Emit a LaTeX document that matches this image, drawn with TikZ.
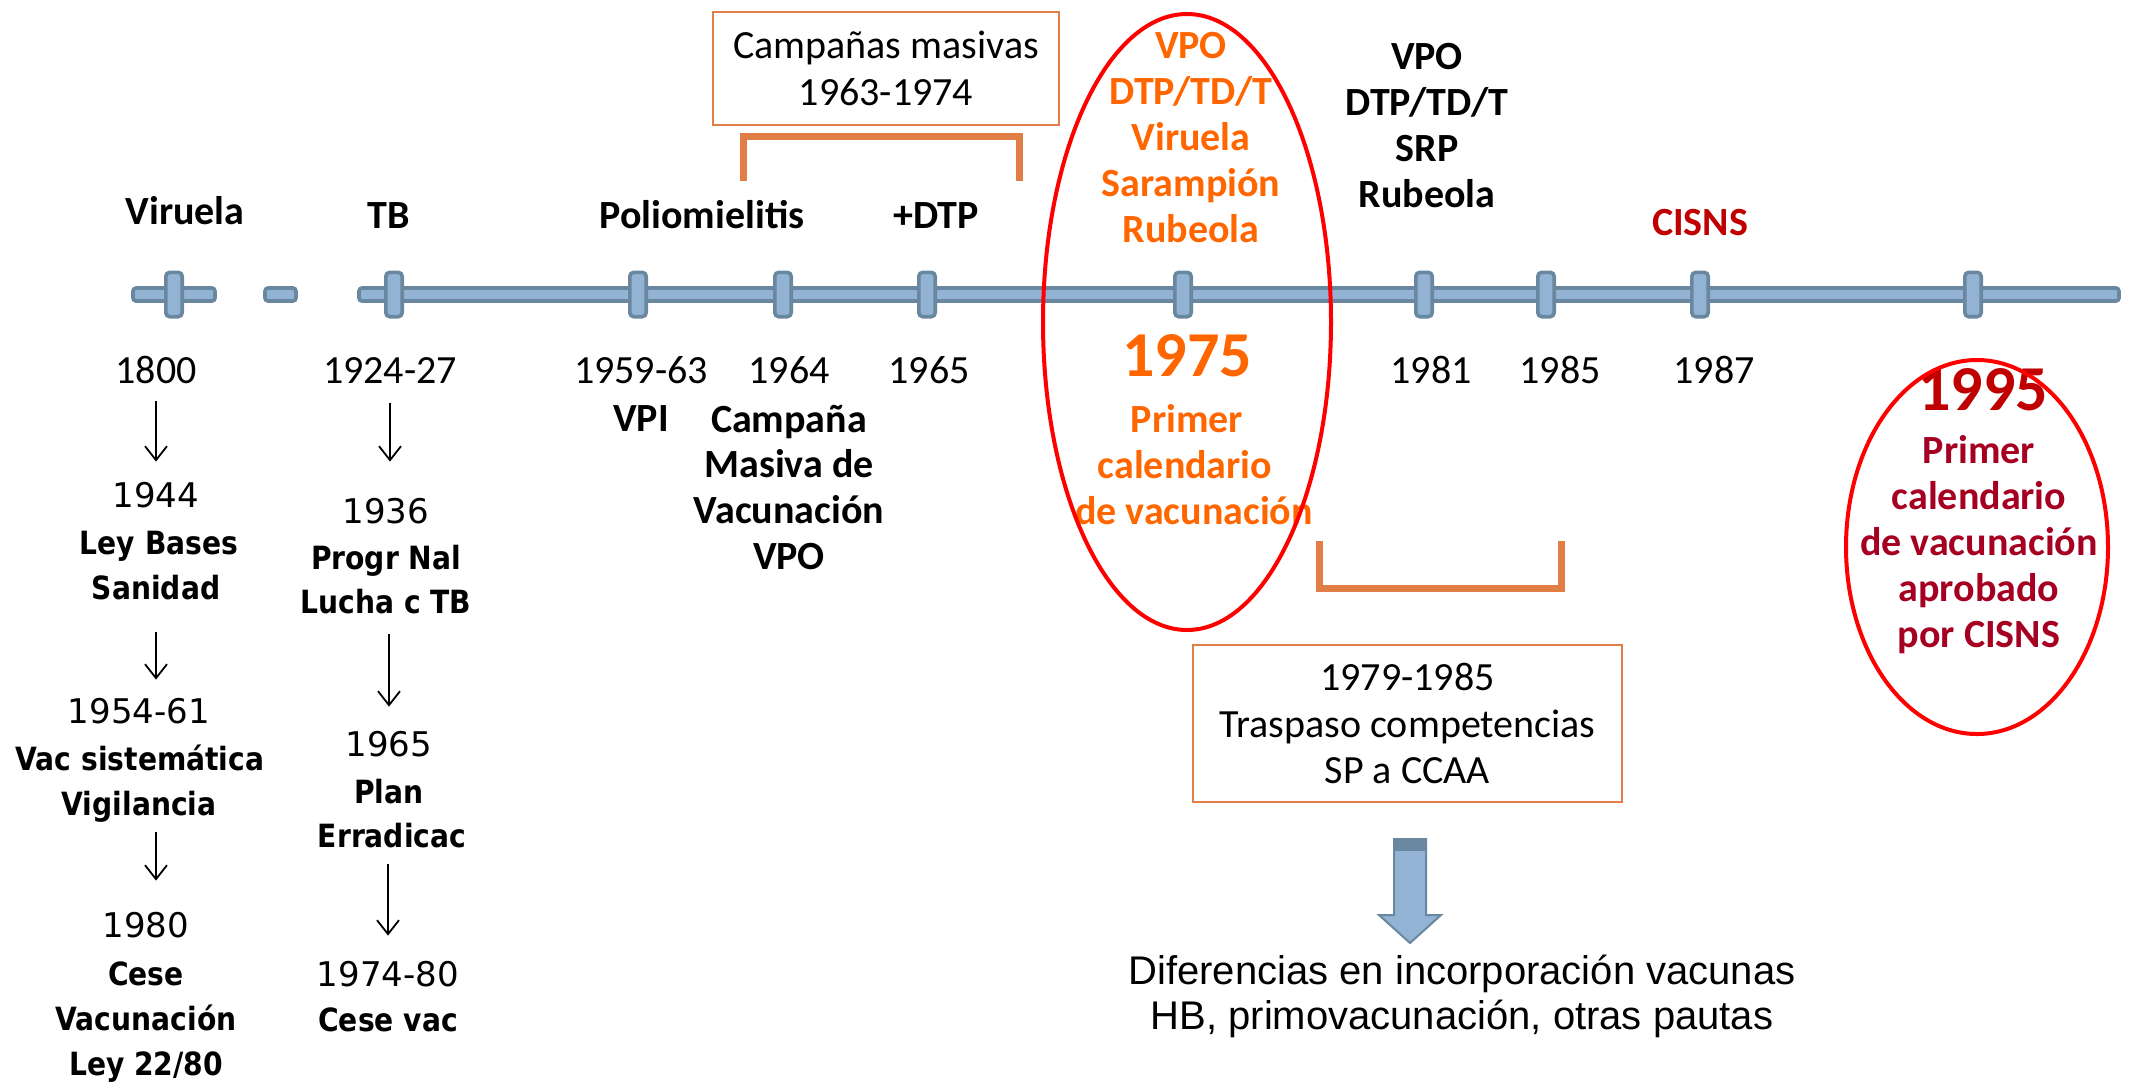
\documentclass[tikz,border=0pt]{standalone}
\usepackage{fontspec}
\setmainfont{Carlito}
\newfontfamily\verd{DejaVu Sans}
\newfontfamily\verdb[FakeStretch=0.88]{DejaVu Sans}
\newfontfamily\arialf{Liberation Sans}
\usetikzlibrary{positioning}
\usetikzlibrary{arrows.meta}
\definecolor{axfill}{RGB}{147,179,213}
\definecolor{axline}{RGB}{106,135,160}
\definecolor{brk}{RGB}{224,126,70}
\definecolor{orng}{RGB}{255,102,0}
\definecolor{dred}{RGB}{192,0,0}
\definecolor{wine}{RGB}{165,0,33}

\begin{document}
\begin{tikzpicture}[x=0.5pt,y=-0.5pt,
  axbar/.style={draw=axline,fill=axfill,line width=1.8pt,rounded corners=1.5pt},
  tk/.style={draw=axline,fill=axfill,line width=1.8pt,rounded corners=2pt,inner sep=0pt,minimum width=8.2pt,minimum height=22.2pt},
  cal/.style={inner sep=0pt,text height=13pt,text depth=0pt,font=\fontsize{20}{24}\selectfont},
  calb/.style={inner sep=0pt,text height=13pt,text depth=0pt,font=\fontsize{20}{24}\selectfont\bfseries},
  vd/.style={inner sep=0pt,text height=12.4pt,text depth=0pt,font=\verd\fontsize{17}{20}\selectfont},
  vdb/.style={inner sep=0pt,text height=11.7pt,text depth=0pt,font=\verdb\fontsize{16}{19}\selectfont\bfseries},
  big/.style={inner sep=0pt,text height=20.6pt,text depth=0pt,font=\fontsize{32}{38}\selectfont\bfseries},
  frame/.style={draw=brk,line width=1pt,inner sep=0pt,align=center,font=\fontsize{20}{23.5}\selectfont},
  brkt/.style={draw=brk,line width=3.5pt},
  ring/.style={draw=red,line width=2pt},
  arr/.style={-{Straight Barb[length=7pt,width=11pt]},line width=0.9pt}]
\useasboundingbox (0,0) rectangle (2132,1084);

%time axis
\draw[axbar] (133,288) rectangle (215,301);
\draw[axbar] (265,288) rectangle (296,301);
\draw[axbar] (359,288) rectangle (2119,301);
\foreach\x [count=\i] in {174,394,638,783,927,1183,1424,1546,1700,1973}{
	\node[tk] (t\i) at (\x,294.5) {};}

%above the axis
\node[calb] (viru) at (185,211) {Viruela};
\node[calb] (tb) at (389,215) {TB};
\node[calb] (polio) at (702,215) {Poliomielitis};
\node[calb] (dtp) at (936,215) {+DTP};
\node[calb,text=dred] (cisns) at (1700,222) {CISNS};
\foreach\txt [count=\i] in {VPO,DTP/TD/T,Viruela,Sarampión,Rubeola}{
	\node[calb,text=orng] (o\i) at (1191,{45+46*(\i-1)}) {\txt};}
\foreach\txt [count=\i] in {VPO,DTP/TD/T,SRP,Rubeola}{
	\node[calb] (k\i) at (1427,{56+46*(\i-1)}) {\txt};}

%campaigns 1963-1974
\node[frame,minimum width=173pt,minimum height=56.5pt] (camp) at (886,68.5) {Campañas masivas\\1963-1974};
\draw[brkt] (743,181) -- (743,136) -- (1019,136) -- (1019,181);

%years below the axis
\node[cal] (a1800) at (156,370) {1800};
\node[cal] (a1924) at (390,370) {1924-27};
\node[cal] (a1959) at (641,370) {1959-63};
\node[cal] (a1964) at (789,370) {1964};
\node[cal] (a1965) at (929,370) {1965};
\node[cal] (a1981) at (1431,370) {1981};
\node[cal] (a1985) at (1560,370) {1985};
\node[cal] (a1987) at (1714,370) {1987};
\node[calb] (vpi) at (641,418) {VPI};
\foreach\txt [count=\i] in {Campaña,Masiva de,Vacunación,VPO}{
	\node[calb] (c\i) at (789,{419+45.7*(\i-1)}) {\txt};}

%1975
\node[big,text=orng] (a1975) at (1187,356) {1975};
\node[calb,text=orng] (p1) at (1187,419) {Primer};
\node[calb,text=orng] (p2) at (1185,465) {calendario};
\node[calb,text=orng] (p3) at (1194,511) {de vacunación};
\draw[ring] (1187,322) ellipse [x radius=144, y radius=308];

%1995
\node[big,text=dred] (a1995) at (1983,390) {1995};
\foreach\txt [count=\i] in {Primer,calendario,de vacunación,aprobado,por CISNS}{
	\node[calb,text=wine] (q\i) at (1979,{450+46.2*(\i-1)}) {\txt};}
\draw[ring] (1977,547) ellipse [x radius=131, y radius=187];

%viruela column
\node[vd] (y1944) at (156,495) {1944};
\node[vdb] (ley) at (159,543) {Ley Bases};
\node[vdb] (san) at (156,588) {Sanidad};
\node[vd] (y1954) at (139,711) {1954-61};
\node[vdb] (vac) at (140,759) {Vac sistemática};
\node[vdb] (vig) at (139,804) {Vigilancia};
\node[vd] (y1980) at (146,925) {1980};
\node[vdb] (cese) at (146,974) {Cese};
\node[vdb] (vacu) at (146,1019) {Vacunación};
\node[vdb] (ley22) at (146,1064) {Ley 22/80};
\draw[arr,shorten <=9pt,shorten >=10.3pt] (a1800) -- (y1944);
\draw[arr,shorten <=16pt,shorten >=9.3pt] (san.south) -- (san.south |- y1954.north);
\draw[arr,shorten <=8pt,shorten >=15.8pt] (a1800 |- vig.south) -- (a1800 |- y1980.north);

%TB column
\node[vd] (y1936) at (386,511) {1936};
\node[vdb] (progr) at (386,558) {Progr Nal};
\node[vdb] (lucha) at (386,602) {Lucha c TB};
\node[vd] (y1965) at (389,744) {1965};
\node[vdb] (plan) at (389,792) {Plan};
\node[vdb] (erra) at (392,836) {Erradicac};
\node[vd] (y1974) at (388,974) {1974-80};
\node[vdb] (cesev) at (388,1020) {Cese vac};
\draw[arr,shorten <=10pt,shorten >=18.3pt] (a1924.south) -- (a1924.south |- y1936.north);
\draw[arr,shorten <=10pt,shorten >=12.3pt] (y1965 |- lucha.south) -- (y1965.north);
\draw[arr,shorten <=8pt,shorten >=12.8pt] (y1974 |- erra.south) -- (y1974.north);

%transfer 1979-1985
\draw[brkt] (1319,541) -- (1319,588) -- (1561,588) -- (1561,541);
\node[frame,minimum width=214.5pt,minimum height=78.5pt,font=\fontsize{20}{23.2}\selectfont] (trasp) at (1407.5,723.5) {1979-1985\\Traspaso competencias\\SP a CCAA};
\fill[axfill,draw=axline,line width=1pt] (1394,839) -- (1426,839) -- (1426,915) -- (1441,915) -- (1410,943) -- (1379,915) -- (1394,915) -- cycle;
\fill[axline] (1394,839) rectangle (1426,851);
\node[inner sep=0pt,align=center,font=\arialf\fontsize{20}{22.5}\selectfont] (dif) at (1462,996.5) {Diferencias en incorporación vacunas\\HB, primovacunación, otras pautas};
\end{tikzpicture}
\end{document}
